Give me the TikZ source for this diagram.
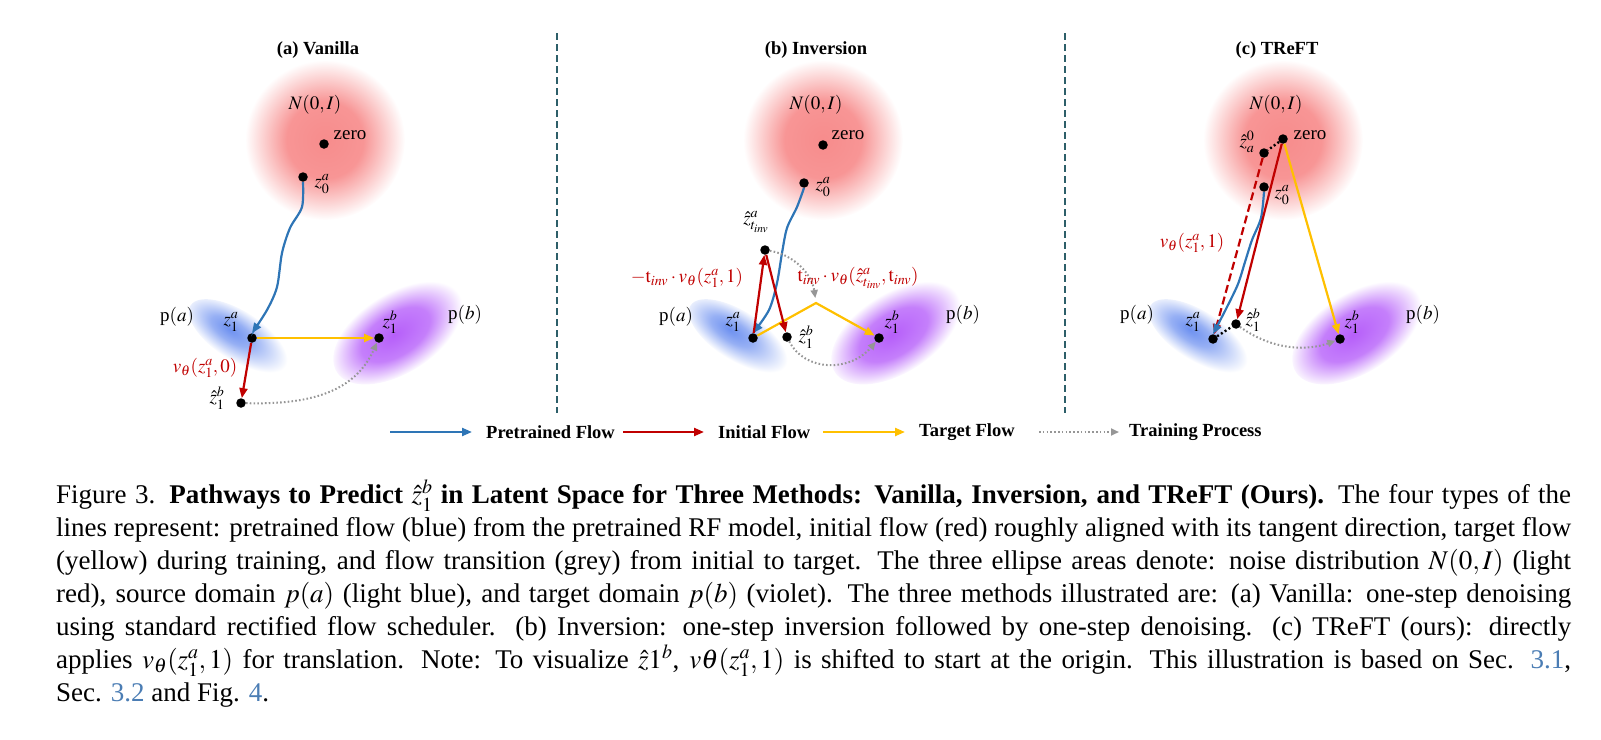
\documentclass[tikz,border=0pt]{standalone}
\usepackage{amsmath,amssymb}
\usepackage{mathptmx}
\usepackage{fontspec}
\setmainfont{Liberation Serif}
\usepackage{xcolor}
\usetikzlibrary{arrows.meta,positioning}

\definecolor{preblue}{RGB}{46,117,182}
\definecolor{initred}{RGB}{192,0,0}
\definecolor{tgtyellow}{RGB}{255,192,0}
\definecolor{trgrey}{RGB}{150,150,150}
\definecolor{divteal}{RGB}{45,95,105}
\definecolor{linkblue}{RGB}{75,125,180}
\definecolor{noisered}{RGB}{247,140,140}
\definecolor{srcblue}{RGB}{110,145,240}
\definecolor{tgtviolet}{RGB}{182,95,250}

% the path border sits at 25bp
\pgfdeclareradialshading{noiseglow}{\pgfpoint{0bp}{0bp}}{color(0bp)=(noisered); color(12bp)=(noisered!92!white); color(25bp)=(white); color(50bp)=(white)}
\pgfdeclareradialshading{srcglow}{\pgfpoint{-6bp}{1bp}}{color(0bp)=(srcblue); color(10bp)=(srcblue!72!white); color(25bp)=(white); color(50bp)=(white)}
\pgfdeclareradialshading{tgtglow}{\pgfpoint{-2bp}{0bp}}{color(0bp)=(tgtviolet); color(13bp)=(tgtviolet!80!white); color(25bp)=(white); color(50bp)=(white)}

\begin{document}
\begin{tikzpicture}[x=1pt, y=-1pt,
  every node/.style={font=\fontsize{19}{22}\selectfont},
  latpt/.style={circle, fill=black, inner sep=0pt, minimum size=9.5pt},
  ttl/.style={font=\fontsize{18.5}{22}\selectfont\bfseries},
  lgd/.style={font=\fontsize{18.5}{22}\selectfont\bfseries, inner sep=0pt, anchor=west},
  redlbl/.style={text=initred},
  flowtip/.style={-{Triangle[length=10pt,width=8pt]}},
  preflow/.style={draw=preblue, line width=2.2pt, flowtip},
  initflow/.style={draw=initred, line width=2.2pt, flowtip},
  tgtflow/.style={draw=tgtyellow, line width=2.2pt, flowtip},
  trainflow/.style={draw=trgrey, line width=2pt, dash pattern=on 1.6pt off 2.2pt, -{Triangle[length=8pt,width=7pt]}},
  linkdot/.style={draw=black, line width=2.4pt, dash pattern=on 2pt off 2.5pt},
  divider/.style={draw=divteal, line width=2.4pt, dash pattern=on 7pt off 4pt},
  capbox/.style={font=\fontsize{27}{33}\selectfont, text width=1515pt, align=justify, inner sep=0pt}]
  \useasboundingbox (0,0) rectangle (1601,739);

  % panel dividers
  \draw[divider] (557,33) -- (557,413);
  \draw[divider] (1065,33) -- (1065,413);

  % ---------- (a) Vanilla ----------
  \node[ttl] (ta) at (318,50) {(a) Vanilla};
  \shade[shading=noiseglow] (325,140) circle [radius=80pt];
  \begin{scope}[transform canvas={shift={(241,338)}, rotate=-33}]
    \shade[shading=srcglow] (0,0) ellipse [x radius=60pt, y radius=25pt];
  \end{scope}
  \begin{scope}[transform canvas={shift={(399,332)}, rotate=33}]
    \shade[shading=tgtglow] (0,0) ellipse [x radius=74pt, y radius=40pt];
  \end{scope}
  \node[latpt] (azer) at (324,144) {};
  \node[latpt] (aza0) at (303,177) {};
  \node[latpt] (aza1) at (252,338) {};
  \node[latpt] (azb1) at (379,338) {};
  \node[latpt] (azh1) at (241,403) {};
  \draw[preflow] plot[smooth] coordinates {(aza0.south) (302,207) (290,228) (282,253) (277,287) (267,310) (aza1.north)};
  \draw[tgtflow] (aza1) -- (azb1);
  \draw[initflow] (aza1) -- (azh1);
  \draw[trainflow] (azh1) .. controls (310,405) and (355,392) .. (azb1);
  \node (aN) at (315,105) {$N(0,I)$};
  \node (azerl) at (350,135) {zero};
  \node (aza0l) at (322,184) {$z_0^a$};
  \node (aza1l) at (231,322) {$z_1^a$};
  \node (azb1l) at (390,322) {$z_1^b$};
  \node (azh1l) at (217,398) {$\hat{z}_1^b$};
  \node (apa) at (177,317) {p$(a)$};
  \node (apb) at (465,315) {p$(b)$};
  \node[redlbl] (av) at (205,368) {$v_\theta(z_1^a,0)$};

  % ---------- (b) Inversion ----------
  \node[ttl] (tb) at (816,50) {(b) Inversion};
  \shade[shading=noiseglow] (823,140) circle [radius=80pt];
  \begin{scope}[transform canvas={shift={(741,338)}, rotate=-33}]
    \shade[shading=srcglow] (0,0) ellipse [x radius=60pt, y radius=25pt];
  \end{scope}
  \begin{scope}[transform canvas={shift={(897,332)}, rotate=33}]
    \shade[shading=tgtglow] (0,0) ellipse [x radius=74pt, y radius=40pt];
  \end{scope}
  \node[latpt] (bzer) at (823,145) {};
  \node[latpt] (bza0) at (804,183) {};
  \node[latpt] (bzti) at (765,250) {};
  \node[latpt] (bza1) at (753,338) {};
  \node[latpt] (bzh1) at (787,337) {};
  \node[latpt] (bzb1) at (879,338) {};
  \coordinate (bpk) at (816,303);
  \draw[preflow] plot[smooth] coordinates {(bza0.south) (797,207) (787,228) (782,253) (777,283) (769,310) (bza1.north)};
  \draw[tgtflow] (bza1) -- (bpk) -- (bzb1);
  \draw[initflow] (bza1) -- (bzti);
  \draw[initflow] (bzti) -- (bzh1);
  \draw[trainflow, shorten >=5pt] (bzti) .. controls (795,255) and (812,275) .. (bpk);
  \draw[trainflow] (bzh1) .. controls (805,372) and (850,372) .. (bzb1);
  \node (bN) at (816,105) {$N(0,I)$};
  \node (bzerl) at (848,135) {zero};
  \node (bza0l) at (823,187) {$z_0^a$};
  \node (bztil) at (756,222) {$\hat{z}^a_{t_{inv}}$};
  \node (bza1l) at (733,322) {$z_1^a$};
  \node (bzh1l) at (806,337) {$\hat{z}_1^b$};
  \node (bzb1l) at (892,322) {$z_1^b$};
  \node (bpa) at (676,317) {p$(a)$};
  \node (bpb) at (963,315) {p$(b)$};
  \node[redlbl] (binv) at (687,278) {$-\mathrm{t}_{inv}\cdot v_\theta(z_1^a,1)$};
  \node[redlbl] (bden) at (858,278) {$\mathrm{t}_{inv}\cdot v_\theta(\hat{z}^a_{t_{inv}},\mathrm{t}_{inv})$};

  % ---------- (c) TReFT ----------
  \node[ttl] (tc) at (1277,50) {(c) TReFT};
  \shade[shading=noiseglow] (1283,140) circle [radius=80pt];
  \begin{scope}[transform canvas={shift={(1201,338)}, rotate=-33}]
    \shade[shading=srcglow] (0,0) ellipse [x radius=60pt, y radius=25pt];
  \end{scope}
  \begin{scope}[transform canvas={shift={(1358,332)}, rotate=33}]
    \shade[shading=tgtglow] (0,0) ellipse [x radius=74pt, y radius=40pt];
  \end{scope}
  \node[latpt] (czer) at (1283,139) {};
  \node[latpt] (czha) at (1264,153) {};
  \node[latpt] (cza0) at (1264,187) {};
  \node[latpt] (cza1) at (1213,339) {};
  \node[latpt] (czh1) at (1236,324) {};
  \node[latpt] (czb1) at (1340,339) {};
  \draw[linkdot] (czer) -- (czha);
  \draw[linkdot] (cza1) -- (czh1);
  \draw[initflow, dash pattern=on 8pt off 4pt] (czha) -- (cza1);
  \draw[preflow] plot[smooth] coordinates {(cza0.south) (1261,218) (1252,240) (1245,262) (1238,284) (1227,307) (cza1.north)};
  \draw[initflow] (czer) -- (czh1);
  \draw[tgtflow] (czer) -- (czb1);
  \draw[trainflow] (czh1) .. controls (1275,352) and (1310,350) .. (czb1);
  \node (cN) at (1276,105) {$N(0,I)$};
  \node (czerl) at (1310,135) {zero};
  \node (czhal) at (1247,142) {$\hat{z}_a^0$};
  \node (cza0l) at (1282,195) {$z_0^a$};
  \node (cza1l) at (1193,322) {$z_1^a$};
  \node (czh1l) at (1253,320) {$\hat{z}_1^b$};
  \node (czb1l) at (1352,322) {$z_1^b$};
  \node (cpa) at (1137,315) {p$(a)$};
  \node (cpb) at (1423,315) {p$(b)$};
  \node[redlbl] (cv) at (1192,243) {$v_\theta(z_1^a,1)$};

  % legend
  \coordinate (lgpre0) at (390,432);
  \node[lgd] (lgpre) at (486,432) {Pretrained Flow};
  \coordinate (lginit0) at (623,432);
  \node[lgd] (lginit) at (718,432) {Initial Flow};
  \coordinate (lgtgt0) at (823,432);
  \node[lgd] (lgtgt) at (919,432) {Target Flow};
  \coordinate (lgtr0) at (1039,432);
  \node[lgd] (lgtr) at (1129,432) {Training Process};
  \draw[preflow, shorten >=14pt] (lgpre0) -- (lgpre.west);
  \draw[initflow, shorten >=14pt] (lginit0) -- (lginit.west);
  \draw[tgtflow, shorten >=14pt] (lgtgt0) -- (lgtgt.west);
  \draw[trainflow, shorten >=10pt] (lgtr0) -- (lgtr.west);

  % caption
  \node[capbox, anchor=base west] (caption) at (56,503) {Figure 3. \textbf{Pathways to Predict $\hat{z}_1^b$ in Latent Space for Three Methods: Vanilla, Inversion, and TReFT (Ours).} The four types of the\linebreak
  lines represent: pretrained flow (blue) from the pretrained RF model, initial flow (red) roughly aligned with its tangent direction, target flow\linebreak
  (yellow) during training, and flow transition (grey) from initial to target. The three ellipse areas denote: noise distribution $N(0,I)$ (light\linebreak
  red), source domain $p(a)$ (light blue), and target domain $p(b)$ (violet). The three methods illustrated are: (a) Vanilla: one-step denoising\linebreak
  using standard rectified flow scheduler. (b) Inversion: one-step inversion followed by one-step denoising. (c) TReFT (ours): directly\linebreak
  applies $v_\theta(z_1^a,1)$ for translation. Note: To visualize $\hat{z}1^b$, $v\theta(z_1^a,1)$ is shifted to start at the origin. This illustration is based on Sec. \textcolor{linkblue}{3.1},\linebreak
  Sec. \textcolor{linkblue}{3.2} and Fig. \textcolor{linkblue}{4}.};
\end{tikzpicture}
\end{document}
